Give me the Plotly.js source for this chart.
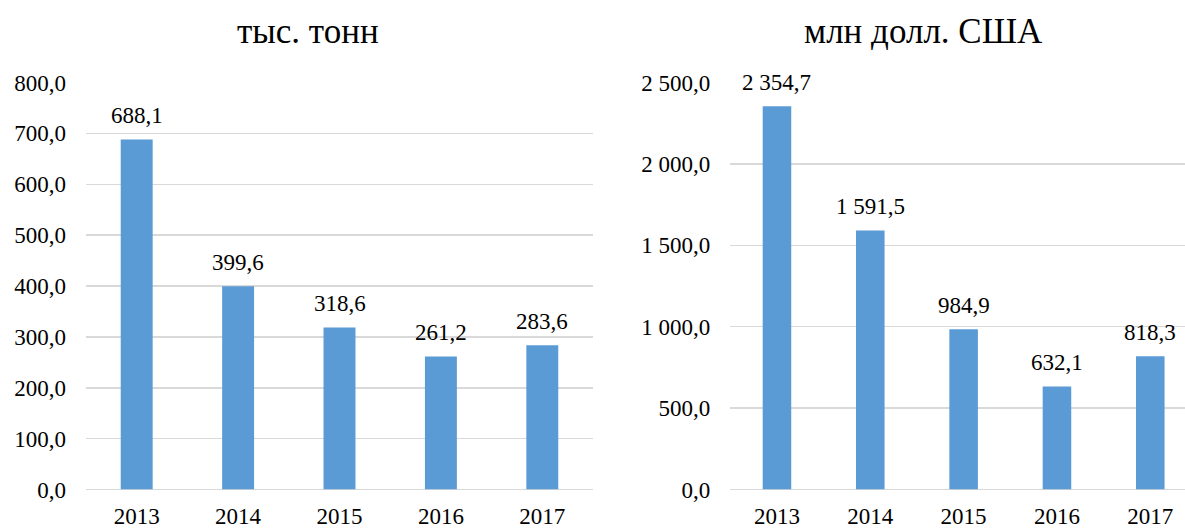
<!DOCTYPE html>
<html>
<head>
<meta charset="utf-8">
<script src="https://cdn.plot.ly/plotly-3.0.1.min.js"></script>
<style>html,body{margin:0;padding:0;background:#fff;}#chart{width:1185px;height:530px;}</style>
</head>
<body>
<div id="chart"></div>
<script>
const years = ['2013', '2014', '2015', '2016', '2017'];
const tonnes = [688.1, 399.6, 318.6, 261.2, 283.6];
const usd = [2354.7, 1591.5, 984.9, 632.1, 818.3];
const titleLeft = 'тыс. тонн';
const titleRight = 'млн долл. США';

const W = 1185, H = 530;
const px = v => v / W;
const py = v => (H - v) / H;
const FONT = 'Liberation Serif';
const barColor = '#5B9BD5';
const gridColor = '#D9D9D9';

function mkFont(size) { return {family: FONT, size: size, color: '#000'}; }
function fmt(v) {
  const parts = v.toFixed(1).split('.');
  const intPart = parts[0].replace(/\B(?=(\d{3})+(?!\d))/g, ' ');
  return intPart + ',' + parts[1];
}

const traces = [
  {
    type: 'bar', x: years, y: tonnes, xaxis: 'x', yaxis: 'y',
    width: 0.315, marker: {color: barColor}, hoverinfo: 'none'
  },
  {
    type: 'bar', x: years, y: usd, xaxis: 'x2', yaxis: 'y2',
    width: 0.306, marker: {color: barColor}, hoverinfo: 'none'
  }
];

function yAxis(extra) {
  return Object.assign({
    showgrid: true, gridcolor: gridColor, gridwidth: 1.5,
    zeroline: true, zerolinecolor: gridColor, zerolinewidth: 1.5,
    showline: false, ticks: '', tickfont: mkFont(23), tickformat: ',.1f',
    ticklabelstandoff: 19, fixedrange: true
  }, extra);
}
function xAxis(extra) {
  return Object.assign({
    type: 'category', showgrid: false, zeroline: false, showline: false,
    ticks: '', tickfont: mkFont(23), ticklabelstandoff: 10, fixedrange: true
  }, extra);
}

const valueAnnotations = [];
years.forEach((yr, i) => {
  valueAnnotations.push({text: fmt(tonnes[i]), x: i, y: tonnes[i], xref: 'x', yref: 'y',
    xanchor: 'center', yanchor: 'middle', yshift: 24, showarrow: false, font: mkFont(23)});
  valueAnnotations.push({text: fmt(usd[i]), x: i, y: usd[i], xref: 'x2', yref: 'y2',
    xanchor: 'center', yanchor: 'middle', yshift: 24, showarrow: false, font: mkFont(23)});
});

const layout = {
  width: W, height: H,
  margin: {l: 0, r: 0, t: 0, b: 0},
  paper_bgcolor: '#fff', plot_bgcolor: '#fff',
  separators: ', ',
  showlegend: false,
  font: mkFont(23),
  xaxis: xAxis({domain: [px(86), px(593)], range: [-0.5, 4.5], anchor: 'y'}),
  yaxis: yAxis({domain: [py(489.5), py(82.5)], range: [0, 800], dtick: 100, anchor: 'x'}),
  xaxis2: xAxis({domain: [px(730.3), 1], range: [-0.5, 4.372], anchor: 'y2'}),
  yaxis2: yAxis({domain: [py(489.5), py(82.5)], range: [0, 2500], dtick: 500, anchor: 'x2'}),
  annotations: [
    {text: titleLeft, xref: 'paper', yref: 'paper', x: px(307.7), y: py(32), xanchor: 'center', yanchor: 'middle',
     showarrow: false, font: mkFont(35)},
    {text: titleRight, xref: 'paper', yref: 'paper', x: px(923), y: py(32), xanchor: 'center', yanchor: 'middle',
     showarrow: false, font: mkFont(35)}
  ].concat(valueAnnotations)
};

Plotly.newPlot('chart', traces, layout, {displayModeBar: false, staticPlot: true});
</script>
</body>
</html>
